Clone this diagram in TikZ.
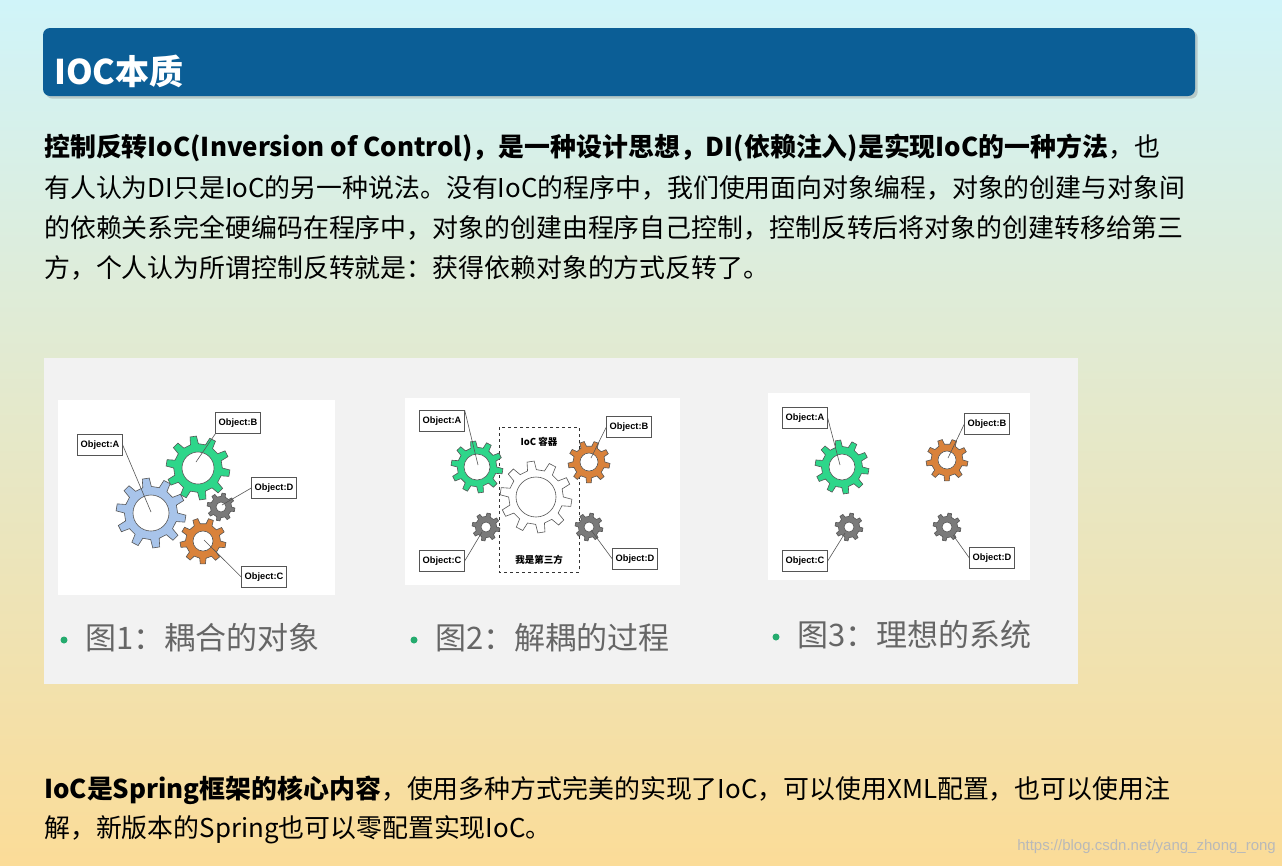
\documentclass[tikz,border=0pt]{standalone}
\usepackage{fontspec}
\setmainfont{Noto Sans CJK SC}
\newfontfamily\lab{Liberation Sans}
\usetikzlibrary{shadows}
\definecolor{hdr}{HTML}{0B5E96}
\definecolor{ggreen}{HTML}{2ED68A}
\definecolor{gblue}{HTML}{A8C4EA}
\definecolor{gorange}{HTML}{D9823B}
\definecolor{ggray}{HTML}{7A7A7A}
\definecolor{gearline}{HTML}{555555}
\definecolor{captc}{HTML}{666666}
\newcommand\mygear[6]{%
\begin{scope}[shift={(#1,#2)}]
\pgfmathsetmacro\st{360/#5}\pgfmathsetmacro\rr{0.76*#3}
\filldraw[fill=#6,draw=gearline,line width=0.6pt] (0:\rr) \foreach \i in {0,...,\numexpr#5-1\relax}{ -- ({\i*\st+0.1*\st}:#3) -- ({\i*\st+0.42*\st}:#3) -- ({\i*\st+0.52*\st}:\rr) -- ({(\i+1)*\st}:\rr)} -- cycle;
\filldraw[fill=white,draw=gearline,line width=0.6pt] (0,0) circle (#4);
\end{scope}}
\tikzset{
 objbox/.style={draw=gearline,fill=white,line width=0.6pt,font=\lab\bfseries\fontsize{9.3}{10}\selectfont,inner sep=3pt,minimum height=21pt},
 leader/.style={draw=gearline,line width=0.6pt},
 body/.style={anchor=west,inner sep=0pt,font=\fontsize{25.9}{30}\selectfont},
 captext/.style={anchor=west,inner sep=0pt,text=captc,font=\fontsize{31}{34}\selectfont},
 bdot/.style={fill=ggreen!80!black,draw=none}
}
\begin{document}
\begin{tikzpicture}[x=1pt,y=-1pt]
\useasboundingbox (0,0) rectangle (1282,865);
\shade[top color={rgb,255:red,208;green,244;blue,249}, middle color={rgb,255:red,232;green,240;blue,214}, bottom color={rgb,255:red,251;green,220;blue,152}] (0,0) rectangle (1282,865);
\fill[hdr,rounded corners=7pt,drop shadow={opacity=0.35}] (43,28) rectangle (1195,96);
\node[anchor=west,text=white,font=\bfseries\fontsize{34}{38}\selectfont,inner sep=0pt] (title) at (54,71) {IOC本质};
\node[body] (l1) at (44,148) {\textbf{控制反转IoC(Inversion of Control)，是一种设计思想，DI(依赖注入)是实现IoC的一种方法}，也};
\node[body] (l2) at (44,188) {有人认为DI只是IoC的另一种说法。没有IoC的程序中，我们使用面向对象编程，对象的创建与对象间};
\node[body] (l3) at (44,228) {的依赖关系完全硬编码在程序中，对象的创建由程序自己控制，控制反转后将对象的创建转移给第三};
\node[body] (l4) at (44,268) {方，个人认为所谓控制反转就是：获得依赖对象的方式反转了。};
\node[body] (b1) at (44,790) {\textbf{IoC是Spring框架的核心内容}，使用多种方式完美的实现了IoC，可以使用XML配置，也可以使用注};
\node[body] (b2) at (44,830) {解，新版本的Spring也可以零配置实现IoC。};
\node[anchor=east,inner sep=0pt,text=white!45!gray,font=\lab\fontsize{15}{16}\selectfont] (wm) at (1276,847) {https://blog.csdn.net/yang\_zhong\_rong};
% image panel
\fill[white!95!black] (44,358) rectangle (1078,684);
\fill[white] (58,400) rectangle (335,595);
\fill[white] (405,398) rectangle (680,585);
\fill[white] (768,393) rectangle (1030,580);
% fig1
\mygear{151}{513}{35}{18}{10}{gblue}
\mygear{198}{468}{32}{16}{10}{ggreen}
\mygear{221}{507}{14}{5}{8}{ggray}
\mygear{203}{541}{23}{10}{9}{gorange}
\node[objbox] (a1) at (100,445) {Object:A};
\node[objbox] (bb1) at (238,423) {Object:B};
\node[objbox] (d1) at (274,488) {Object:D};
\node[objbox] (c1) at (264,577) {Object:C};
\coordinate (ga1) at (151,512); \coordinate (gb1) at (196,462);
\coordinate (gd1) at (222,505); \coordinate (gc1) at (204,540);
\draw[leader] (a1.east) -- (ga1); \draw[leader] (bb1.south west) -- (gb1);
\draw[leader] (d1.west) -- (gd1); \draw[leader] (c1.west) -- (gc1);
% fig2
\mygear{536}{497}{36}{20}{10}{white}
\draw[dashed,line width=1pt,draw=black!80] (499,427) rectangle (579,572);
\node[font=\bfseries\fontsize{9.5}{10}\selectfont,inner sep=0pt] (ioc) at (539,442) {IoC 容器};
\node[font=\bfseries\fontsize{9.5}{10}\selectfont,inner sep=0pt] (third) at (539,560) {我是第三方};
\mygear{477}{467}{26}{13}{10}{ggreen}
\mygear{589}{462}{21}{9}{9}{gorange}
\mygear{486}{527}{14}{5}{8}{ggray}
\mygear{589}{527}{14}{5}{8}{ggray}
\node[objbox] (a2) at (442,421) {Object:A};
\node[objbox] (bb2) at (629,427) {Object:B};
\node[objbox] (c2) at (442,561) {Object:C};
\node[objbox] (d2) at (635,559) {Object:D};
\coordinate (ga2) at (478,465); \coordinate (gb2) at (591,458);
\coordinate (gc2) at (482,532); \coordinate (gd2) at (591,530);
\draw[leader] (a2.north east) -- (ga2); \draw[leader] (bb2.west) -- (gb2);
\draw[leader] (c2.east) -- (gc2); \draw[leader] (d2.west) -- (gd2);
% fig3
\mygear{842}{467}{27}{13}{10}{ggreen}
\mygear{947}{460}{21}{9}{9}{gorange}
\mygear{849}{527}{14}{5}{8}{ggray}
\mygear{947}{527}{14}{5}{8}{ggray}
\node[objbox] (a3) at (805,418) {Object:A};
\node[objbox] (bb3) at (987,424) {Object:B};
\node[objbox] (c3) at (805,561) {Object:C};
\node[objbox] (d3) at (992,558) {Object:D};
\coordinate (ga3) at (840,465); \coordinate (gb3) at (948,458);
\coordinate (gc3) at (845,533); \coordinate (gd3) at (953,535);
\draw[leader] (a3.east) -- (ga3); \draw[leader] (bb3.west) -- (gb3);
\draw[leader] (c3.east) -- (gc3); \draw[leader] (d3.west) -- (gd3);
% captions
\fill[bdot] (64,640) circle (3.5); \node[captext] (cap1) at (85,638) {图1：耦合的对象};
\fill[bdot] (414,640) circle (3.5); \node[captext] (cap2) at (435,638) {图2：解耦的过程};
\fill[bdot] (776,637) circle (3.5); \node[captext] (cap3) at (797,635) {图3：理想的系统};
\end{tikzpicture}
\end{document}
